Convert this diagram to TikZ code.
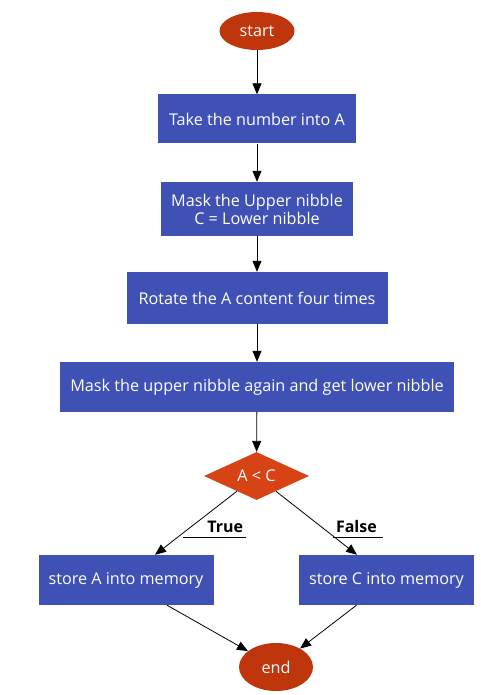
\documentclass[tikz,border=0pt]{standalone}
\usepackage{fontspec}
\setmainfont{Open Sans}
\usepackage{xcolor}
\usetikzlibrary{shapes.geometric,arrows.meta}

\definecolor{boxblue}{HTML}{3F51B5}
\definecolor{termred}{HTML}{BF360C}
\definecolor{decorange}{HTML}{D84315}

\begin{document}
\begin{tikzpicture}[x=1pt,y=-1pt,
  every node/.style={font=\fontsize{16.2}{18}\selectfont},
  proc/.style={rectangle,fill=boxblue,text=white,inner sep=0pt,align=center},
  term/.style={ellipse,fill=termred,text=white,inner sep=0pt},
  dec/.style={diamond,fill=decorange,text=white,inner sep=0pt,aspect=2.2},
  flow/.style={draw=black,line width=0.8pt,-{Triangle[length=11pt,width=9pt]}},
  tag/.style={font=\bfseries\fontsize{16}{18}\selectfont,inner xsep=3pt,inner ysep=4pt,anchor=south}]
\useasboundingbox (0,0) rectangle (480,695);
\node[term,minimum width=75,minimum height=38] (start) at (257,31) {start};
\node[proc,minimum width=198,minimum height=49] (take) at (257,119) {Take the number into A};
\node[proc,minimum width=192,minimum height=54] (mask) at (257,209) {Mask the Upper nibble\\C = Lower nibble};
\node[proc,minimum width=261,minimum height=52] (rot) at (257,298) {Rotate the A content four times};
\node[proc,minimum width=394,minimum height=50] (again) at (257,387) {Mask the upper nibble again and get lower nibble};
\node[dec,minimum width=105,minimum height=48] (cmp) at (256.5,476) {A < C};
\node[proc,minimum width=175,minimum height=50] (storea) at (126,580) {store A into memory};
\node[proc,minimum width=175,minimum height=50] (storec) at (386.5,580) {store C into memory};
\node[term,minimum width=74,minimum height=48] (end) at (276,667) {end};
% edge labels
\node[tag,text width=57pt,align=right] (ltrue) at (214.5,537) {True};
\node[tag,text width=44pt,align=left] (lfalse) at (358,537) {False};
\draw[line width=0.8pt] (ltrue.south west) -- (ltrue.south east);
\draw[line width=0.8pt] (lfalse.south west) -- (lfalse.south east);
% arrows
\draw[flow] (start) -- (take);
\draw[flow] (take) -- (mask);
\draw[flow] (mask) -- (rot);
\draw[flow] (rot) -- (again);
\draw[flow] (again) -- (cmp);
\draw[flow] (cmp) -- ([xshift=29]storea.north);
\draw[flow] (cmp) -- ([xshift=-29.5]storec.north);
\draw[flow] ([xshift=41]storea.south) -- (end);
\draw[flow] ([xshift=-30]storec.south) -- (end);
\end{tikzpicture}
\end{document}
